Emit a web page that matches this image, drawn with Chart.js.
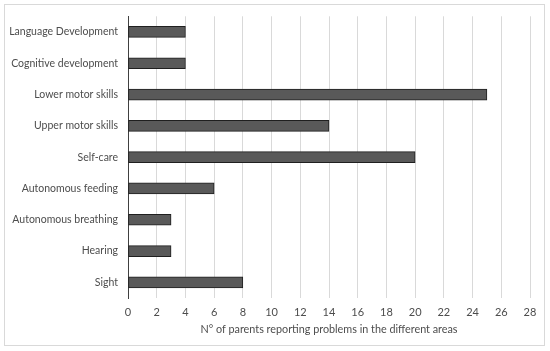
<!DOCTYPE html>
<html>
<head>
<meta charset="utf-8">
<script src="https://cdn.jsdelivr.net/npm/chart.js@4.4.1/dist/chart.umd.min.js"></script>
<style>
  body { margin: 0; background: #fff; }
  #wrap { position: relative; width: 550px; height: 351px; }
  #frame { position: absolute; left: 4px; top: 4px; width: 541px; height: 342px; border: 1px solid #d9d9d9; box-sizing: border-box; }
  canvas { position: absolute; left: 0; top: 0; }
</style>
</head>
<body>
<div id="wrap">
  <div id="frame"></div>
  <canvas id="chart" width="550" height="351"></canvas>
</div>
<script>
const categories = [
  "Language Development",
  "Cognitive development",
  "Lower motor skills",
  "Upper motor skills",
  "Self-care",
  "Autonomous feeding",
  "Autonomous breathing",
  "Hearing",
  "Sight"
];
const parents = [4, 4, 25, 14, 20, 6, 3, 3, 8];
const xTitle = "N° of parents reporting problems in the different areas";

const textColor = "#4d4d4d";
const fontFamily = "Lato, 'Open Sans', sans-serif";

const ctx = document.getElementById("chart").getContext("2d");
new Chart(ctx, {
  type: "bar",
  data: {
    labels: categories,
    datasets: [{
      data: parents,
      backgroundColor: "#595959",
      borderColor: "#1f1f1f",
      borderWidth: 1,
      borderSkipped: false,
      barThickness: 11
    }]
  },
  options: {
    indexAxis: "y",
    responsive: false,
    animation: false,
    layout: { padding: { top: 14, right: 20, bottom: 0, left: 0 } },
    plugins: {
      legend: { display: false },
      tooltip: { enabled: false }
    },
    scales: {
      x: {
        min: 0,
        max: 28,
        ticks: {
          stepSize: 2,
          padding: 8,
          color: textColor,
          font: { family: fontFamily, size: 11 }
        },
        grid: { color: "#d9d9d9", drawTicks: false },
        border: { display: false },
        title: {
          display: true,
          text: xTitle,
          color: textColor,
          font: { family: fontFamily, size: 10.8 },
          padding: { top: 0, bottom: 15 }
        },
        afterFit: (scale) => { scale.height = 53; }
      },
      y: {
        ticks: {
          padding: 10,
          color: textColor,
          font: { family: fontFamily, size: 10.5 }
        },
        grid: { display: false, drawTicks: false },
        border: { display: true, color: "#404040", width: 1 },
        afterFit: (scale) => { scale.width = 128; }
      }
    }
  }
});
</script>
</body>
</html>
